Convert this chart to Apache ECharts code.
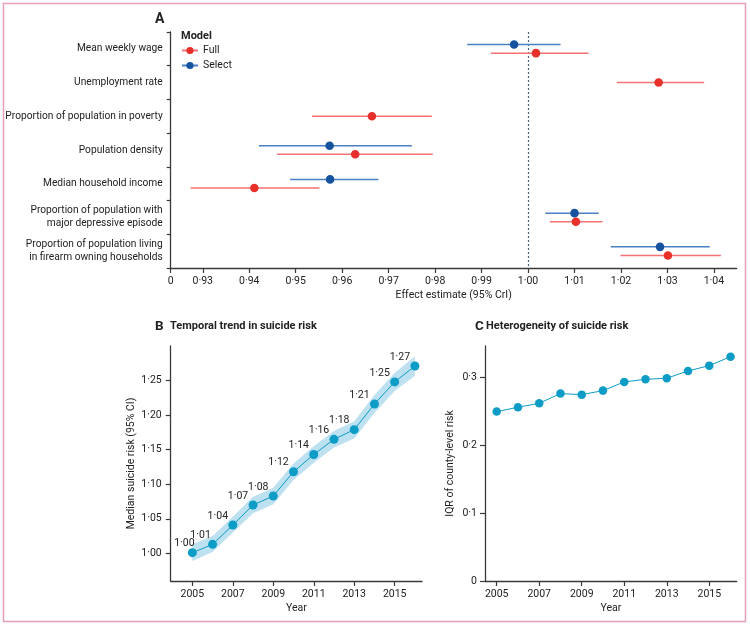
<!DOCTYPE html>
<html><head><meta charset="utf-8">
<script src="https://cdn.jsdelivr.net/npm/echarts@6/dist/echarts.min.js"></script>
<style>html,body{margin:0;padding:0;background:#fff}#c{width:750px;height:627px}</style>
</head><body><div id="c"></div>
<script>
// ---------- Panel A data ----------
const categories = ['Mean weekly wage', 'Unemployment rate', 'Proportion of population in poverty', 'Population density', 'Median household income', 'Proportion of population with\nmajor depressive episode', 'Proportion of population living\nin firearm owning households'];
const fullEst  = [1.0017, 1.0281, 0.9664, 0.9628, 0.9411, 1.0103, 1.0301];
const fullLow  = [0.9920, 1.0191, 0.9535, 0.9460, 0.9274, 1.0047, 1.0199];
const fullHigh = [1.0130, 1.0379, 0.9793, 0.9795, 0.9551, 1.0160, 1.0415];
const selectEst  = [0.9970, null, null, 0.9573, 0.9574, 1.0100, 1.0284];
const selectLow  = [0.9869, null, null, 0.9421, 0.9488, 1.0037, 1.0178];
const selectHigh = [1.0070, null, null, 0.9750, 0.9678, 1.0152, 1.0391];
const aTicks = [0.9231, 0.93, 0.94, 0.95, 0.96, 0.97, 0.98, 0.99, 1.00, 1.01, 1.02, 1.03, 1.04];

// ---------- Panel B data ----------
const years = [2005, 2006, 2007, 2008, 2009, 2010, 2011, 2012, 2013, 2014, 2015, 2016];
const riskMedian = [1.001, 1.013, 1.041, 1.070, 1.083, 1.118, 1.143, 1.165, 1.179, 1.216, 1.248, 1.271];
const riskLower  = [0.989, 1.002, 1.030, 1.058, 1.071, 1.106, 1.131, 1.153, 1.166, 1.203, 1.235, 1.257];
const riskUpper  = [1.013, 1.025, 1.053, 1.082, 1.095, 1.130, 1.155, 1.177, 1.191, 1.229, 1.261, 1.285];
const riskLabels = ['1·00', '1·01', '1·04', '1·07', '1·08', '1·12', '1·14', '1·16', '1·18', '1·21', '1·25', '1·27'];
const bYTicks = [1.00, 1.05, 1.10, 1.15, 1.20, 1.25];
const yearTicks = [2005, 2007, 2009, 2011, 2013, 2015];

// ---------- Panel C data ----------
const iqr = [0.2494, 0.2558, 0.2617, 0.2759, 0.2744, 0.2803, 0.2931, 0.2970, 0.2985, 0.3093, 0.3171, 0.3303];
const cYTicks = [0, 0.1, 0.2, 0.3];

const FONT = 'Roboto, "Liberation Sans", sans-serif';
const AX = '#3a3a3a', TXT = '#222';
const RED = '#e8302a', RED_L = '#f47272', BLUE = '#15539e', BLUE_L = '#4a80c4';
const TEAL = '#0c9cc6', BAND = '#bde1f0';
const FS = 10.5;
const dot = v => v.toFixed(2).replace('.', '·');

const axisBase = {
  axisLine: {show: true, lineStyle: {color: AX, width: 1.3}},
  axisTick: {show: true, length: 5, lineStyle: {color: AX, width: 1.2}},
  axisLabel: {color: TXT, fontSize: FS, fontFamily: FONT},
  splitLine: {show: false},
  nameTextStyle: {color: TXT, fontSize: FS, fontFamily: FONT}
};
function ax(o) { return echarts.util.merge(echarts.util.clone(axisBase), o, true); }

function errSeries(name, est, low, high, dotC, lineC, other, dir) {
  return {
    type: 'custom', name: name + '_err', xAxisIndex: 0, yAxisIndex: 0, z: 5,
    data: est.map((v, i) => v == null ? null : [v, i, low[i], high[i], other[i] == null ? 0 : 1]).filter(d => d),
    encode: {x: [0, 2, 3], y: 1},
    renderItem: function (params, api) {
      const c = api.coord([api.value(0), api.value(1)]);
      const l = api.coord([api.value(2), api.value(1)]);
      const h = api.coord([api.value(3), api.value(1)]);
      const dy = api.value(4) ? dir * 4.3 : 0;
      return {type: 'group', children: [
        {type: 'line', shape: {x1: l[0], y1: l[1] + dy, x2: h[0], y2: h[1] + dy}, style: {stroke: lineC, lineWidth: 1.5}},
        {type: 'circle', shape: {cx: c[0], cy: c[1] + dy, r: 4.3}, style: {fill: dotC}}
      ]};
    }
  };
}

const chart = echarts.init(document.getElementById('c'), null, {renderer: 'canvas'});
chart.setOption({
  animation: false,
  backgroundColor: '#fff',
  textStyle: {fontFamily: FONT},
  grid: [
    {left: 170.7, right: 13.3, top: 32, bottom: 359, containLabel: false, outerBoundsMode: 'none'},
    {left: 170.7, right: 328, top: 346, bottom: 46, containLabel: false, outerBoundsMode: 'none'},
    {left: 485, right: 13.3, top: 346, bottom: 46, containLabel: false, outerBoundsMode: 'none'}
  ],
  xAxis: [
    ax({gridIndex: 0, type: 'value', min: 0.9231, max: 1.0449,
        name: 'Effect estimate (95% CrI)', nameLocation: 'middle', nameGap: 22,
        axisTick: {customValues: aTicks},
        axisLabel: {customValues: aTicks, margin: 8, formatter: v => v < 0.925 ? '0' : dot(v)}}),
    ax({gridIndex: 1, type: 'value', min: 2003.93, max: 2016.35,
        name: 'Year', nameLocation: 'middle', nameGap: 22,
        axisTick: {customValues: yearTicks},
        axisLabel: {customValues: yearTicks, margin: 8, formatter: v => String(Math.round(v))}}),
    ax({gridIndex: 2, type: 'value', min: 2004.45, max: 2016.29,
        name: 'Year', nameLocation: 'middle', nameGap: 22,
        axisTick: {customValues: yearTicks},
        axisLabel: {customValues: yearTicks, margin: 8, formatter: v => String(Math.round(v))}})
  ],
  yAxis: [
    ax({gridIndex: 0, type: 'category', data: categories, inverse: true,
        axisTick: {length: 4},
        axisLabel: {margin: 8, lineHeight: 13, align: 'right', fontSize: 10.2}}),
    ax({gridIndex: 1, type: 'value', min: 0.96, max: 1.30,
        name: 'Median suicide risk (95% CI)', nameLocation: 'middle', nameGap: 34,
        axisTick: {customValues: bYTicks},
        axisLabel: {customValues: bYTicks, margin: 9, formatter: v => dot(v)}}),
    ax({gridIndex: 2, type: 'value', min: 0, max: 0.346,
        name: 'IQR of county-level risk', nameLocation: 'middle', nameGap: 29,
        axisTick: {customValues: cYTicks},
        axisLabel: {customValues: cYTicks, margin: 8, formatter: v => v === 0 ? '0' : v.toFixed(1).replace('.', '·')}})
  ],
  legend: {
    left: 181, top: 45, padding: 0, orient: 'vertical', itemWidth: 16, itemHeight: 9, itemGap: 4,
    data: ['Full', 'Select'],
    textStyle: {color: TXT, fontSize: FS, fontFamily: FONT}
  },
  series: [
    {type: 'line', name: 'Full', xAxisIndex: 0, yAxisIndex: 0, data: [], symbol: 'circle', symbolSize: 8,
     itemStyle: {color: RED}, lineStyle: {color: RED_L, width: 1.5}},
    {type: 'line', name: 'Select', xAxisIndex: 0, yAxisIndex: 0, data: [], symbol: 'circle', symbolSize: 8,
     itemStyle: {color: BLUE}, lineStyle: {color: BLUE_L, width: 1.5}},
    Object.assign(errSeries('Select', selectEst, selectLow, selectHigh, BLUE, BLUE_L, fullEst, -1), {
      markLine: {silent: true, symbol: 'none', label: {show: false},
        lineStyle: {color: '#46627a', type: [2, 2], width: 1.2},
        data: [{xAxis: 1.0}]}
    }),
    errSeries('Full', fullEst, fullLow, fullHigh, RED, RED_L, selectEst, 1),
    {
      type: 'custom', name: 'band', xAxisIndex: 1, yAxisIndex: 1, z: 1, silent: true,
      data: [[years[0], riskLower[0]]],
      renderItem: function (params, api) {
        const pts = [];
        for (let i = 0; i < years.length; i++) pts.push(api.coord([years[i], riskUpper[i]]));
        for (let i = years.length - 1; i >= 0; i--) pts.push(api.coord([years[i], riskLower[i]]));
        return {type: 'polygon', shape: {points: pts}, style: {fill: BAND}};
      }
    },
    {
      type: 'line', name: 'median', xAxisIndex: 1, yAxisIndex: 1, z: 3,
      data: years.map((y, i) => i < 2
        ? {value: [y, riskMedian[i]], label: {offset: [i === 0 ? -8 : -12, 6]}}
        : [y, riskMedian[i]]),
      symbol: 'circle', symbolSize: 9, itemStyle: {color: TEAL}, lineStyle: {color: TEAL, width: 1},
      label: {show: true, position: 'top', distance: 5, offset: [-15, 6], color: TXT, fontSize: FS, fontFamily: FONT,
        formatter: p => riskLabels[p.dataIndex]}
    },
    {
      type: 'line', name: 'iqr', xAxisIndex: 2, yAxisIndex: 2, z: 3,
      data: years.map((y, i) => [y, iqr[i]]),
      symbol: 'circle', symbolSize: 8.5, itemStyle: {color: TEAL}, lineStyle: {color: TEAL, width: 1}
    }
  ],
  graphic: [
    {type: 'rect', shape: {x: 3.5, y: 3.5, width: 742, height: 618}, style: {fill: null, stroke: '#e6a1b6', lineWidth: 1.5}, silent: true},
    {type: 'text', left: 155, top: 12, style: {text: 'A', font: 'bold 14px ' + FONT, fill: '#222'}},
    {type: 'text', left: 181, top: 31, style: {text: 'Model', font: 'bold 11px ' + FONT, fill: '#222'}},
    {type: 'text', left: 155, top: 320, style: {text: 'B', font: 'bold 13.5px ' + FONT, fill: '#222'}},
    {type: 'text', left: 170, top: 321, style: {text: 'Temporal trend in suicide risk', font: 'bold 11px ' + FONT, fill: '#222'}},
    {type: 'text', left: 475, top: 320, style: {text: 'C', font: 'bold 13.5px ' + FONT, fill: '#222'}},
    {type: 'text', left: 486, top: 321, style: {text: 'Heterogeneity of suicide risk', font: 'bold 11px ' + FONT, fill: '#222'}}
  ]
});
</script>
</body></html>
